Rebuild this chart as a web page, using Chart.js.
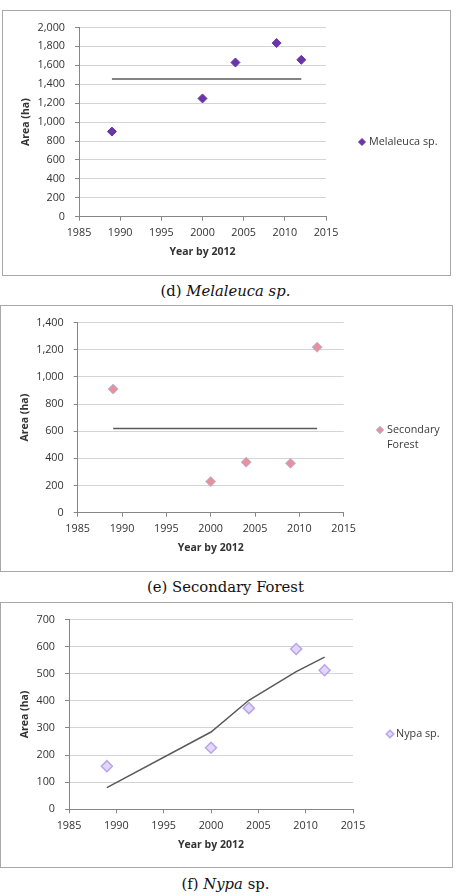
<!DOCTYPE html>
<html><head><meta charset="utf-8">
<script src="https://cdn.jsdelivr.net/npm/chart.js@4.4.1/dist/chart.umd.min.js"></script>
<style>
html,body{margin:0;padding:0;background:#fff;}
body{width:458px;height:895px;position:relative;overflow:hidden;}
.box{position:absolute;border:1px solid #a8a8a8;box-sizing:border-box;background:#fff;}
.box canvas{position:absolute;left:0;top:0;}
.cap{position:absolute;left:0;width:451px;text-align:center;font-family:"DejaVu Serif",serif;font-size:14.8px;color:#111;line-height:16px;white-space:nowrap;}
</style></head><body>
<div class="box" style="left:2px;top:10px;width:449px;height:266px"><canvas id="c1" width="447" height="264"></canvas></div>
<div class="cap" style="top:283px">(d) <i>Melaleuca sp.</i></div>
<div class="box" style="left:0px;top:305px;width:453px;height:267px"><canvas id="c2" width="451" height="265"></canvas></div>
<div class="cap" style="top:579px">(e) Secondary Forest</div>
<div class="box" style="left:0px;top:602px;width:453px;height:266px"><canvas id="c3" width="451" height="264"></canvas></div>
<div class="cap" style="top:876px">(f) <i>Nypa</i> sp.</div>
<script>
// ---- data ----
const surveyYears = [1989, 2000, 2004, 2009, 2012];
const xAxisRange = [1985, 2015];
const xTickStep = 5;

const melaleucaArea = [900, 1250, 1630, 1835, 1658];
const melaleucaLineYears = [1989, 2012];
const melaleucaLine = [1455, 1455];
const melaleucaYRange = [0, 2000];
const melaleucaYStep = 200;

const secondaryArea = [910, 229, 372, 364, 1218];
const secondaryLineYears = [1989, 2012];
const secondaryLine = [620, 620];
const secondaryYRange = [0, 1400];
const secondaryYStep = 200;

const nypaArea = [159, 227, 373, 591, 513];
const nypaLineYears = [1989, 2000, 2004, 2009, 2012];
const nypaLine = [80, 285, 402, 508, 561];
const nypaYRange = [0, 700];
const nypaYStep = 100;

const legendLabels = {
  c1: ['Melaleuca sp.'],
  c2: ['Secondary', 'Forest'],
  c3: ['Nypa sp.']
};
const yTitle = 'Area (ha)';
const xTitle = 'Year by 2012';
// --------------------------------------

Chart.defaults.font.family = '"Open Sans", sans-serif';
Chart.defaults.color = '#333333';

function pts(xs, ys) { return xs.map((x, i) => ({x: x, y: ys[i]})); }

const sideLegend = {
  id: 'sideLegend',
  afterDraw(chart, args, o) {
    const ctx = chart.ctx;
    const ds = chart.data.datasets[0];
    ctx.save();
    ctx.fillStyle = ds.backgroundColor;
    ctx.strokeStyle = ds.borderColor;
    ctx.lineWidth = ds.borderWidth;
    Chart.helpers.drawPoint(ctx, {pointStyle: 'rectRot', radius: o.r, borderWidth: ds.borderWidth, rotation: 0}, o.x, o.y);
    ctx.fillStyle = '#3a3a3a';
    ctx.font = '10.8px "Open Sans", sans-serif';
    ctx.textBaseline = 'middle';
    ctx.textAlign = 'left';
    o.lines.forEach((t, i) => ctx.fillText(t, o.tx, o.y + i * o.lh));
    ctx.restore();
  }
};

function makeChart(id, c) {
  new Chart(document.getElementById(id), {
    type: 'scatter',
    data: {
      datasets: [
        {
          data: pts(surveyYears, c.values),
          pointStyle: 'rectRot',
          pointRadius: c.r,
          pointHoverRadius: c.r,
          backgroundColor: c.fill,
          borderColor: c.stroke,
          borderWidth: c.bw,
          showLine: false
        },
        {
          data: pts(c.lineX, c.lineY),
          showLine: true,
          borderColor: '#5a5a5a',
          borderWidth: 1.5,
          pointRadius: 0,
          tension: 0,
          fill: false
        }
      ]
    },
    options: {
      responsive: false,
      animation: false,
      devicePixelRatio: 1,
      events: [],
      layout: {padding: {left: 0, top: c.top, right: c.right, bottom: 0}},
      plugins: {
        legend: {display: false},
        tooltip: {enabled: false},
        sideLegend: c.legend
      },
      scales: {
        x: {
          type: 'linear',
          min: xAxisRange[0], max: xAxisRange[1],
          afterFit(s) { s.height = c.xh; },
          ticks: {stepSize: xTickStep, padding: 6, font: {size: 10.8}, color: '#333333',
                  callback: v => String(v)},
          grid: {drawOnChartArea: false, drawTicks: true, tickLength: 4, tickColor: '#868686'},
          border: {color: '#868686', width: 1},
          title: {display: true, text: xTitle, font: {size: 10.5, weight: 'bold'}, color: '#333333',
                  padding: {top: 0, bottom: c.xtp}}
        },
        y: {
          type: 'linear',
          min: c.yr[0], max: c.yr[1],
          afterFit(s) { s.width = c.left; },
          ticks: {stepSize: c.ys, padding: 10, font: {size: 10.8}, color: '#333333',
                  callback: v => v.toLocaleString('en-US')},
          grid: {color: '#d4d4d4', lineWidth: 1, drawTicks: true, tickLength: 4, tickColor: '#868686'},
          border: {color: '#868686', width: 1},
          title: {display: true, text: yTitle, font: {size: 10.5, weight: 'bold'}, color: '#333333',
                  padding: {top: c.ytp, bottom: 0}}
        }
      }
    },
    plugins: [sideLegend]
  });
}

makeChart('c1', {
  values: melaleucaArea, lineX: melaleucaLineYears, lineY: melaleucaLine,
  yr: melaleucaYRange, ys: melaleucaYStep,
  r: 4.5, fill: '#6a35a6', stroke: '#6a35a6', bw: 1,
  left: 76, right: 124, top: 12.3, xh: 58.3, xtp: 17, ytp: 16.4,
  legend: {x: 359, y: 131, r: 3.5, tx: 366, lines: legendLabels.c1, lh: 15}
});
makeChart('c2', {
  values: secondaryArea, lineX: secondaryLineYears, lineY: secondaryLine,
  yr: secondaryYRange, ys: secondaryYStep,
  r: 5, fill: '#e8909c', stroke: '#b4b8dc', bw: 1,
  left: 76.7, right: 108.3, top: 12.7, xh: 58.3, xtp: 16.4, ytp: 17.7,
  legend: {x: 379, y: 124, r: 3.8, tx: 386, lines: legendLabels.c2, lh: 15}
});
makeChart('c3', {
  values: nypaArea, lineX: nypaLineYears, lineY: nypaLine,
  yr: nypaYRange, ys: nypaYStep,
  r: 5.5, fill: '#e2d6fb', stroke: '#b9a5ea', bw: 1.5,
  left: 68, right: 99, top: 12, xh: 57.7, xtp: 15.7, ytp: 17.7,
  legend: {x: 389, y: 131, r: 3.8, tx: 395, lines: legendLabels.c3, lh: 15}
});
</script>
</body></html>
